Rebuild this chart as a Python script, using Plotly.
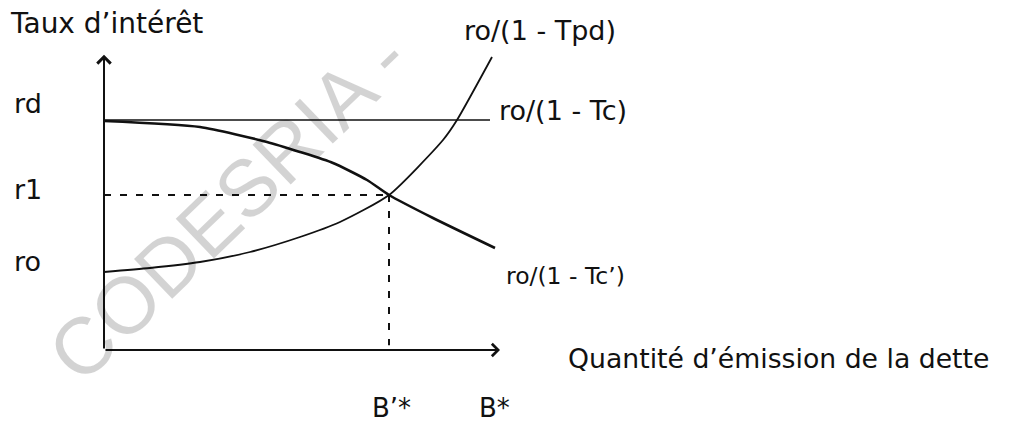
import plotly.graph_objects as go

# ---------------- data (arbitrary economic units) ----------------
rate_labels = ["rd", "r1", "ro"]
rate_values = [5.75, 3.875, 1.95]

qty_labels = ["B’*", "B*"]
qty_values = [7.125, 9.7]

# ro/(1 - Tpd): rising curve
tpd_x = [0.0, 1.15, 2.4, 3.65, 4.9, 5.9, 7.125, 8.475, 8.825, 9.7]
tpd_y = [1.95, 2.05, 2.2, 2.45, 2.825, 3.2, 3.875, 5.25, 5.75, 7.325]

# ro/(1 - Tc'): falling curve
tcp_x = [0.0, 2.4, 4.075, 4.9, 5.725, 6.575, 7.125, 8.225, 9.775]
tcp_y = [5.725, 5.575, 5.2, 4.95, 4.675, 4.25, 3.875, 3.3, 2.55]

# ro/(1 - Tc): flat line at rd
tc_x = [0.0, 9.65]
tc_y = [5.75, 5.75]

x_axis_end = 9.9
y_axis_end = 7.38

curve_labels = ["ro/(1 - Tpd)", "ro/(1 - Tc)", "ro/(1 - Tc’)"]
y_title = "Taux d’intérêt"
x_title = "Quantité d’émission de la dette"
watermark = "CODESRIA -"

# ---------------- figure ----------------
W, H = 1010, 424
FONT = "DejaVu Sans, Liberation Sans, Arial, sans-serif"
ink = "#111111"
FS = 27

fig = go.Figure()

fig.add_trace(go.Scatter(x=tc_x, y=tc_y, mode="lines",
                         line=dict(color=ink, width=1.6), hoverinfo="skip"))
fig.add_trace(go.Scatter(x=tpd_x, y=tpd_y, mode="lines",
                         line=dict(color=ink, width=1.8, shape="spline", smoothing=0.6),
                         hoverinfo="skip"))
fig.add_trace(go.Scatter(x=tcp_x, y=tcp_y, mode="lines",
                         line=dict(color=ink, width=2.6, shape="spline", smoothing=0.6),
                         hoverinfo="skip"))

# dashed guides to the equilibrium point (B'*, r1)
bx, r1 = qty_values[0], rate_values[1]
fig.add_trace(go.Scatter(x=[0, bx], y=[r1, r1], mode="lines",
                         line=dict(color=ink, width=2, dash="7px,9px"), hoverinfo="skip"))
fig.add_trace(go.Scatter(x=[bx, bx], y=[r1, 0.12], mode="lines",
                         line=dict(color=ink, width=2, dash="7px,9px"), hoverinfo="skip"))

ann = []
# axes with arrow heads
ann.append(dict(x=x_axis_end, y=0, ax=0, ay=0, xref="x", yref="y", axref="x", ayref="y",
                text="", showarrow=True, arrowhead=4, arrowsize=1.2, arrowwidth=2,
                arrowcolor=ink, standoff=0, startstandoff=0))
ann.append(dict(x=0, y=y_axis_end, ax=0, ay=0, xref="x", yref="y", axref="x", ayref="y",
                text="", showarrow=True, arrowhead=4, arrowsize=1.3, arrowwidth=2,
                arrowcolor=ink, standoff=0, startstandoff=0))

# rate tick labels (left aligned, as in the original)
rate_shift = [17, 6, 11]
for lab, val, sh in zip(rate_labels, rate_values, rate_shift):
    ann.append(dict(x=12 / W, y=val, xref="paper", yref="y", text=lab, showarrow=False,
                    xanchor="left", yanchor="middle", yshift=sh,
                    font=dict(family=FONT, size=FS, color=ink)))

# quantity tick labels under the axis
for lab, val in zip(qty_labels, qty_values):
    ann.append(dict(x=val, y=-1.45, xref="x", yref="y", text=lab, showarrow=False,
                    xanchor="center", yanchor="middle", xshift=2,
                    font=dict(family=FONT, size=26, color=ink)))

# curve labels
label_pos = [(462, 30, FS), (497, 110, FS), (504, 276, 23.5)]
for lab, (px, py, fs) in zip(curve_labels, label_pos):
    ann.append(dict(x=px / W, y=1 - py / H, xref="paper", yref="paper", text=lab,
                    showarrow=False, xanchor="left", yanchor="middle",
                    font=dict(family=FONT, size=fs, color=ink)))

ann.append(dict(x=8 / W, y=1 - 24 / H, xref="paper", yref="paper", text=y_title,
                showarrow=False, xanchor="left", yanchor="middle",
                font=dict(family=FONT, size=FS + 1, color=ink)))
ann.append(dict(x=566 / W, y=1 - 358 / H, xref="paper", yref="paper", text=x_title,
                showarrow=False, xanchor="left", yanchor="middle",
                font=dict(family=FONT, size=26.7, color=ink)))

# watermark
ann.append(dict(x=228 / W, y=1 - 206 / H, xref="paper", yref="paper", text=watermark,
                showarrow=False, xanchor="center", yanchor="middle", textangle=-44,
                opacity=0.17,
                font=dict(family="Liberation Sans, Arial, sans-serif", size=80, color="#000000")))

fig.update_layout(
    width=W, height=H, autosize=False,
    margin=dict(l=0, r=0, t=0, b=0, pad=0),
    paper_bgcolor="white", plot_bgcolor="white",
    showlegend=False,
    xaxis=dict(range=[-104 / 40, (W - 104) / 40], visible=False, fixedrange=True),
    yaxis=dict(range=[(350 - H) / 40, 350 / 40], visible=False, fixedrange=True),
    annotations=ann,
)

fig.write_html("out.html", config={"displayModeBar": False, "staticPlot": True},
               post_script="document.body.style.margin='0';document.body.style.overflow='hidden';")
